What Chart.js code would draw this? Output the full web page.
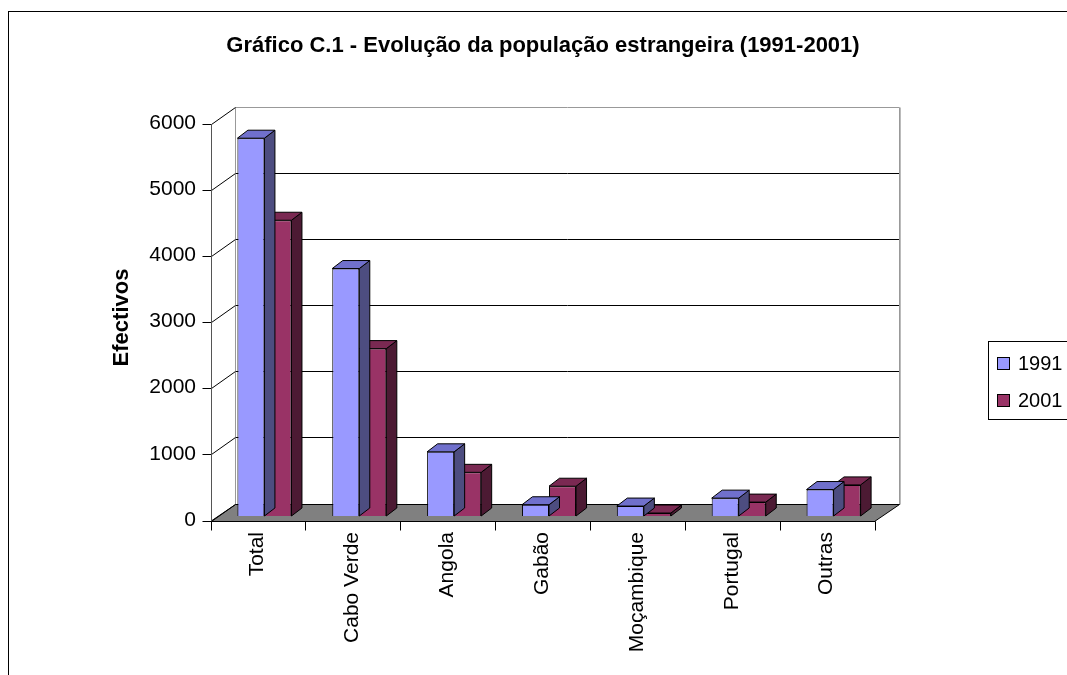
<!DOCTYPE html>
<html>
<head>
<meta charset="utf-8">
<title>Gráfico C.1</title>
<script src="https://cdn.jsdelivr.net/npm/chart.js@4.4.1/dist/chart.umd.min.js"></script>
<style>
  html, body { margin: 0; padding: 0; background: #fff; overflow: hidden; }
  #wrap { width: 1067px; height: 675px; }
</style>
</head>
<body>
<div id="wrap"><canvas id="myChart" width="1067" height="675"></canvas></div>
<script>
'use strict';

const categories = ['Total', 'Cabo Verde', 'Angola', 'Gabão', 'Moçambique', 'Portugal', 'Outras'];
const seriesLabels = ['1991', '2001'];
const values1991 = [5710, 3740, 970, 170, 150, 270, 400];
const values2001 = [4470, 2530, 660, 450, 45, 210, 470];
const yTicks = [0, 1000, 2000, 3000, 4000, 5000, 6000];

const FONT = "'Liberation Sans', Arial, sans-serif";
Chart.defaults.font.family = FONT;
Chart.defaults.color = '#000';

// oblique 3d offsets (from the bar plane)
const FRONT = { dx: -6.5, dy: 4.5 };
const BACK = { dx: 17.5, dy: -12.5 };
const DEPTH = { dx: 10.5, dy: -8 };

const faces = [
    { top: '#7070CC', side: '#4D4D80' },
    { top: '#7A2952', side: '#4C1A33' }
];

function poly(ctx, pts, fill, stroke) {
    ctx.beginPath();
    ctx.moveTo(pts[0][0], pts[0][1]);
    for (let i = 1; i < pts.length; i++) ctx.lineTo(pts[i][0], pts[i][1]);
    ctx.closePath();
    if (fill) { ctx.fillStyle = fill; ctx.fill(); }
    if (stroke) { ctx.strokeStyle = stroke; ctx.lineWidth = 1; ctx.stroke(); }
}

function line(ctx, x1, y1, x2, y2, color) {
    ctx.beginPath();
    ctx.moveTo(x1, y1);
    ctx.lineTo(x2, y2);
    ctx.strokeStyle = color;
    ctx.lineWidth = 1;
    ctx.stroke();
}

const frame3d = {
    id: 'frame3d',
    beforeDraw(chart) {
        const ctx = chart.ctx;
        ctx.save();
        ctx.fillStyle = '#fff';
        ctx.fillRect(0, 0, chart.width, chart.height);
        ctx.strokeStyle = '#000';
        ctx.lineWidth = 1;
        ctx.strokeRect(8.5, 11.5, chart.width + 20, chart.height + 20);
        ctx.restore();
    },
    beforeDatasetsDraw(chart) {
        const ctx = chart.ctx;
        const xs = chart.scales.x;
        const ys = chart.scales.y;
        const l = Math.round(xs.left), r = Math.round(xs.right);
        const y0 = ys.getPixelForValue(0);
        const yTop = ys.getPixelForValue(yTicks[yTicks.length - 1]);
        const fl = l + FRONT.dx, fr = r + FRONT.dx, fb = Math.round(y0 + FRONT.dy) + 0.5;
        const bl = Math.round(l + BACK.dx) + 0.5, br = Math.round(r + BACK.dx) + 0.5;
        const bb = Math.round(y0 + BACK.dy) + 0.5;
        ctx.save();

        // back wall gridlines
        yTicks.forEach(v => {
            const py = Math.round(ys.getPixelForValue(v) + BACK.dy) + 0.5;
            if (v > 0 && v < yTicks[yTicks.length - 1]) line(ctx, bl, py, br, py, '#000');
        });
        const bt = Math.round(yTop + BACK.dy) + 0.5;
        line(ctx, bl, bt, br, bt, '#999');
        line(ctx, bl, bt, bl, bb, '#999');
        line(ctx, br, bt, br, bb, '#999');
        line(ctx, br + 1, bt, br + 1, bb, '#bbb');

        // floor
        poly(ctx, [[fl, fb], [bl, bb], [br, bb], [fr, fb]], '#808080', '#000');

        // front value axis with ticks and diagonals to the wall
        const ax = Math.round(fl) + 0.5;
        yTicks.forEach(v => {
            const py = Math.round(ys.getPixelForValue(v) + FRONT.dy) + 0.5;
            line(ctx, ax - 9, py, ax, py, '#000');
            line(ctx, ax, py, bl, Math.round(ys.getPixelForValue(v) + BACK.dy) + 0.5, '#000');
        });
        line(ctx, ax, Math.round(yTop + FRONT.dy) + 0.5, ax, fb, '#555');

        // front category axis
        line(ctx, ax, fb, Math.round(fr) + 0.5, fb, '#000');
        for (let i = 0; i <= categories.length; i++) {
            const px = Math.round(fl + (fr - fl) * i / categories.length) + 0.5;
            line(ctx, px, fb, px, fb + 9, '#000');
        }
        ctx.restore();
    },
    beforeDatasetDraw(chart, args) {
        const ctx = chart.ctx;
        const meta = chart.getDatasetMeta(args.index);
        const f = faces[args.index];
        ctx.save();
        meta.data.forEach(bar => {
            const p = bar.getProps(['x', 'y', 'base', 'width'], true);
            const left = p.x - p.width / 2, right = p.x + p.width / 2;
            const top = p.y, base = p.base;
            poly(ctx, [[right, top], [right + DEPTH.dx, top + DEPTH.dy],
                [right + DEPTH.dx, base + DEPTH.dy], [right, base]], f.side, '#000');
            poly(ctx, [[left, top], [left + DEPTH.dx, top + DEPTH.dy],
                [right + DEPTH.dx, top + DEPTH.dy], [right, top]], f.top, '#000');
        });
        ctx.restore();
    },
    afterDraw(chart) {
        // legend box, open on the right like the source
        const ctx = chart.ctx;
        ctx.save();
        ctx.strokeStyle = '#000';
        ctx.lineWidth = 1;
        ctx.strokeRect(988.5, 341.5, 120, 78);
        ctx.font = '20px ' + FONT;
        ctx.textBaseline = 'middle';
        ctx.textAlign = 'left';
        chart.data.datasets.forEach((ds, i) => {
            const cy = 363 + i * 37.5;
            ctx.fillStyle = ds.backgroundColor;
            ctx.fillRect(997, Math.round(cy - 6.5), 13, 13);
            ctx.strokeRect(997.5, Math.round(cy - 6.5) + 0.5, 12, 12);
            ctx.fillStyle = '#000';
            ctx.fillText(ds.label, 1018, cy + 1);
        });
        ctx.restore();
    }
};

const ctx = document.getElementById('myChart').getContext('2d');

new Chart(ctx, {
    type: 'bar',
    data: {
        labels: categories,
        datasets: [
            {
                label: seriesLabels[0],
                data: values1991,
                backgroundColor: '#9999FF',
                borderColor: '#000',
                borderWidth: 1,
                categoryPercentage: 0.57,
                barPercentage: 1
            },
            {
                label: seriesLabels[1],
                data: values2001,
                backgroundColor: '#993366',
                borderColor: '#000',
                borderWidth: 1,
                categoryPercentage: 0.57,
                barPercentage: 1
            }
        ]
    },
    options: {
        responsive: false,
        animation: false,
        devicePixelRatio: 1,
        layout: { padding: { left: 19, top: 0, right: 0, bottom: 0 } },
        plugins: {
            legend: { display: false },
            tooltip: { enabled: false },
            title: {
                display: true,
                text: 'Gráfico C.1 - Evolução da população estrangeira (1991-2001)',
                color: '#000',
                font: { size: 22, weight: 'bold' },
                padding: { top: 33, bottom: 59.6 }
            }
        },
        scales: {
            x: {
                grid: { display: false, drawTicks: false },
                border: { display: false },
                ticks: {
                    autoSkip: false,
                    maxRotation: 90,
                    minRotation: 90,
                    padding: 16,
                    labelOffset: -7,
                    font: { size: 21 },
                    color: '#000'
                },
                afterFit(scale) { scale.height = 159; }
            },
            y: {
                min: 0,
                max: 6000,
                grid: { display: false, drawTicks: false },
                border: { display: false },
                ticks: {
                    stepSize: 1000,
                    padding: 21,
                    labelOffset: 4,
                    font: { size: 21 },
                    color: '#000',
                    callback: v => String(v)
                },
                title: {
                    display: true,
                    text: 'Efectivos',
                    color: '#000',
                    font: { size: 22, weight: 'bold' },
                    padding: { top: 90 }
                },
                afterFit(scale) { scale.width = 198; }
            },
            yRight: {
                axis: 'y',
                position: 'right',
                display: true,
                grid: { display: false, drawTicks: false },
                border: { display: false },
                ticks: { display: false },
                afterFit(scale) { scale.width = 186; }
            }
        }
    },
    plugins: [frame3d]
});
</script>
</body>
</html>
